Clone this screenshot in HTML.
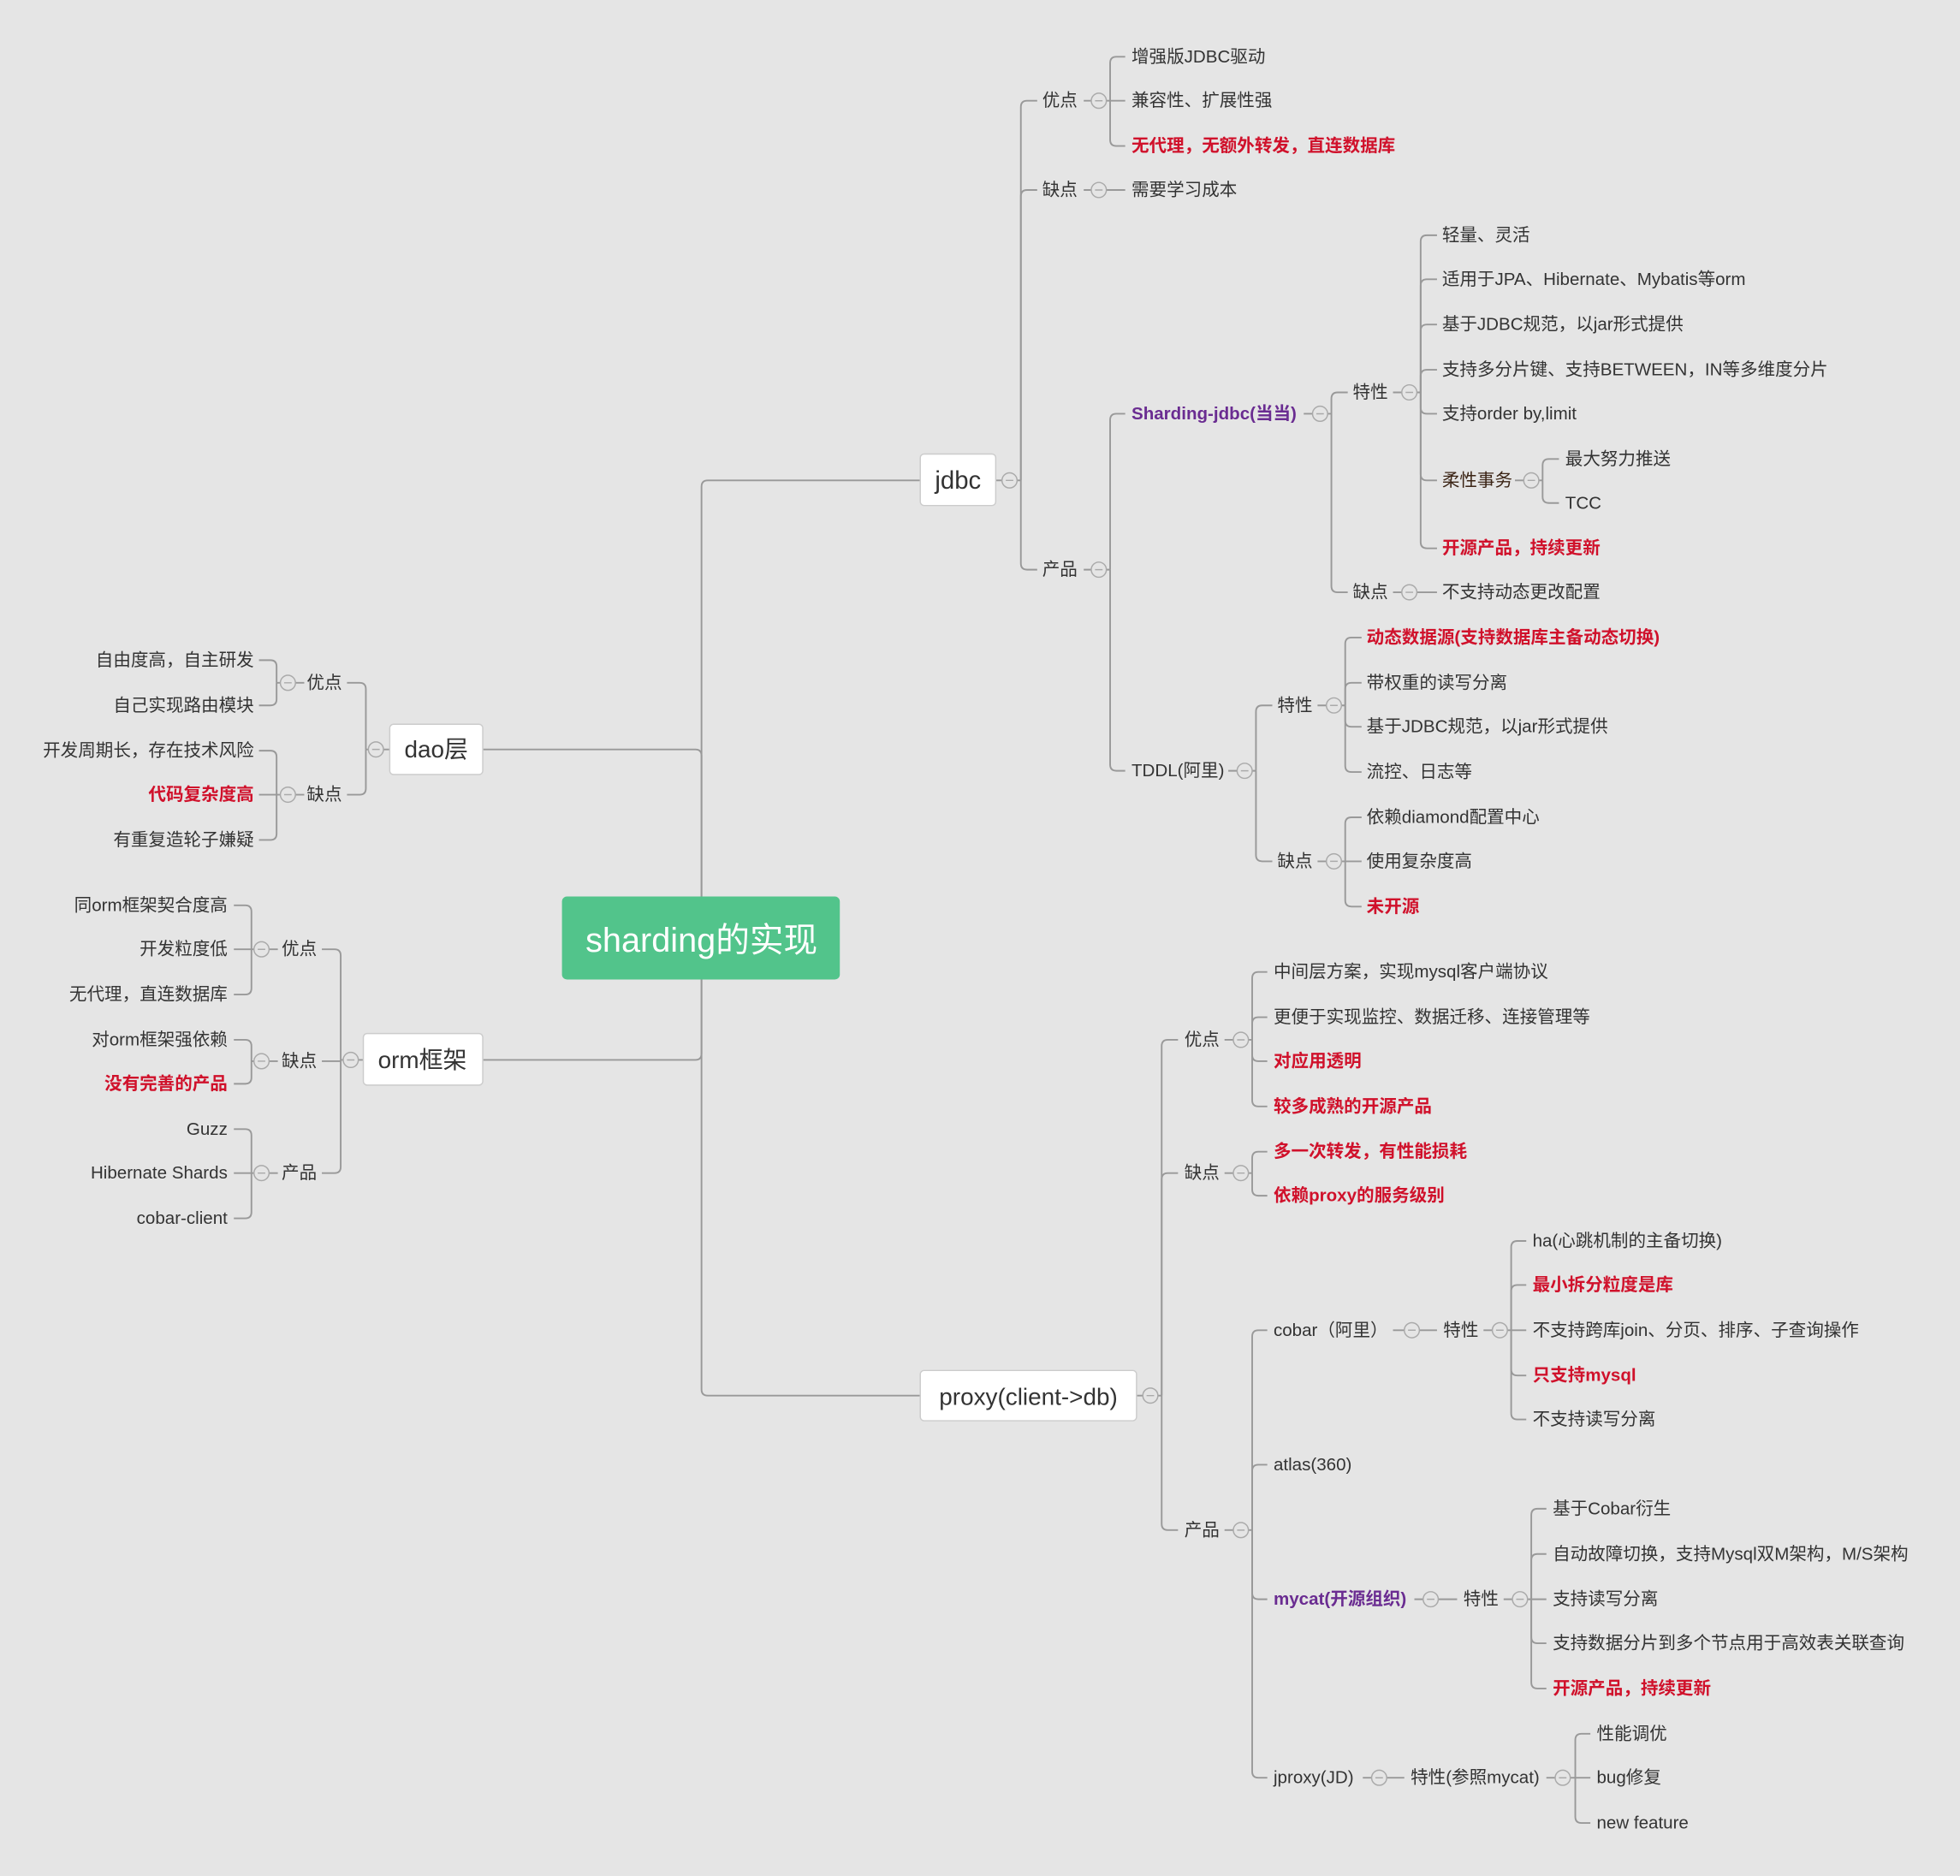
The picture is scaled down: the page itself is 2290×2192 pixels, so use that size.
<!DOCTYPE html>
<html><head><meta charset="utf-8"><style>
html,body{margin:0;padding:0;background:#e5e5e5;}
svg{display:block;}
text{font-family:"Liberation Sans","Noto Sans CJK SC",sans-serif;font-size:14px;fill:#333;dominant-baseline:central;}
.r{fill:#d0112b;font-weight:bold;}
.p{fill:#6a2c91;font-weight:bold;}
.e{text-anchor:end;}
.l{fill:none;stroke:#999;stroke-width:1.3;}
.c{fill:#e5e5e5;stroke:#aaa;stroke-width:1;}
.box{fill:#fff;stroke:#ccc;stroke-width:1;}
</style></head><body>
<svg width="2290" height="2192" viewBox="0 0 1559 1492" xmlns="http://www.w3.org/2000/svg">
<rect width="1559" height="1492" fill="#e5e5e5"/>
<g class="l">
<!-- main -->
<path d="M558 713 V387 Q558 382 563 382 H732"/>
<path d="M558 713 V601 Q558 596 553 596 H384"/>
<path d="M558 779 V838 Q558 843 553 843 H384"/>
<path d="M558 779 V1105 Q558 1110 563 1110 H732"/>
<!-- jdbc -->
<path d="M792 382 H797 M809 382 H812"/>
<path d="M812 382 V85 Q812 80 817 80 H825"/>
<path d="M812 382 V156 Q812 151 817 151 H825"/>
<path d="M812 382 V448 Q812 453 817 453 H825"/>
<path d="M862 80 H868 M880 80 H883"/>
<path d="M883 80 V50 Q883 45 888 45 H895"/>
<path d="M883 80 H895"/>
<path d="M883 80 V111 Q883 116 888 116 H895"/>
<path d="M862 151 H868 M880 151 H895"/>
<path d="M862 453 H868 M880 453 H883"/>
<path d="M883 453 V334 Q883 329 888 329 H895"/>
<path d="M883 453 V608 Q883 613 888 613 H895"/>
<path d="M1037 329 H1044 M1056 329 H1059"/>
<path d="M1059 329 V317 Q1059 312 1064 312 H1072"/>
<path d="M1059 329 V466 Q1059 471 1064 471 H1072"/>
<path d="M1108 312 H1115 M1127 312 H1130"/>
<path d="M1130 312 V192 Q1130 187 1135 187 H1143"/>
<path d="M1130 312 V227 Q1130 222 1135 222 H1143"/>
<path d="M1130 312 V263 Q1130 258 1135 258 H1143"/>
<path d="M1130 312 V299 Q1130 294 1135 294 H1143"/>
<path d="M1130 312 V324 Q1130 329 1135 329 H1143"/>
<path d="M1130 312 V377 Q1130 382 1135 382 H1143"/>
<path d="M1130 312 V431 Q1130 436 1135 436 H1143"/>
<path d="M1205 382 H1212 M1224 382 H1227"/>
<path d="M1227 382 V370 Q1227 365 1232 365 H1240"/>
<path d="M1227 382 V395 Q1227 400 1232 400 H1240"/>
<path d="M1108 471 H1115 M1127 471 H1143"/>
<path d="M977 613 H984 M996 613 H999"/>
<path d="M999 613 V566 Q999 561 1004 561 H1012"/>
<path d="M999 613 V680 Q999 685 1004 685 H1012"/>
<path d="M1048 561 H1055 M1067 561 H1070"/>
<path d="M1070 561 V512 Q1070 507 1075 507 H1083"/>
<path d="M1070 561 V548 Q1070 543 1075 543 H1083"/>
<path d="M1070 561 V573 Q1070 578 1075 578 H1083"/>
<path d="M1070 561 V609 Q1070 614 1075 614 H1083"/>
<path d="M1048 685 H1055 M1067 685 H1070"/>
<path d="M1070 685 V655 Q1070 650 1075 650 H1083"/>
<path d="M1070 685 H1083"/>
<path d="M1070 685 V716 Q1070 721 1075 721 H1083"/>
<!-- proxy -->
<path d="M904 1110 H909 M921 1110 H924"/>
<path d="M924 1110 V832 Q924 827 929 827 H937"/>
<path d="M924 1110 V938 Q924 933 929 933 H937"/>
<path d="M924 1110 V1212 Q924 1217 929 1217 H937"/>
<path d="M974 827 H981 M993 827 H996"/>
<path d="M996 827 V778 Q996 773 1001 773 H1008"/>
<path d="M996 827 V814 Q996 809 1001 809 H1008"/>
<path d="M996 827 V839 Q996 844 1001 844 H1008"/>
<path d="M996 827 V875 Q996 880 1001 880 H1008"/>
<path d="M974 933 H981 M993 933 H996"/>
<path d="M996 933 V921 Q996 916 1001 916 H1008"/>
<path d="M996 933 V946 Q996 951 1001 951 H1008"/>
<path d="M974 1217 H981 M993 1217 H996"/>
<path d="M996 1217 V1063 Q996 1058 1001 1058 H1008"/>
<path d="M996 1217 V1170 Q996 1165 1001 1165 H1008"/>
<path d="M996 1217 V1267 Q996 1272 1001 1272 H1008"/>
<path d="M996 1217 V1409 Q996 1414 1001 1414 H1008"/>
<path d="M1108 1058 H1117 M1129 1058 H1143"/>
<path d="M1180 1058 H1187 M1199 1058 H1202"/>
<path d="M1202 1058 V992 Q1202 987 1207 987 H1214"/>
<path d="M1202 1058 V1027 Q1202 1022 1207 1022 H1214"/>
<path d="M1202 1058 H1214"/>
<path d="M1202 1058 V1089 Q1202 1094 1207 1094 H1214"/>
<path d="M1202 1058 V1124 Q1202 1129 1207 1129 H1214"/>
<path d="M1125 1272 H1132 M1144 1272 H1159"/>
<path d="M1196 1272 H1203 M1215 1272 H1218"/>
<path d="M1218 1272 V1205 Q1218 1200 1223 1200 H1230"/>
<path d="M1218 1272 V1241 Q1218 1236 1223 1236 H1230"/>
<path d="M1218 1272 H1230"/>
<path d="M1218 1272 V1302 Q1218 1307 1223 1307 H1230"/>
<path d="M1218 1272 V1338 Q1218 1343 1223 1343 H1230"/>
<path d="M1084 1414 H1091 M1103 1414 H1117"/>
<path d="M1230 1414 H1237 M1249 1414 H1253"/>
<path d="M1253 1414 V1384 Q1253 1379 1258 1379 H1265"/>
<path d="M1253 1414 H1265"/>
<path d="M1253 1414 V1445 Q1253 1450 1258 1450 H1265"/>
<!-- dao -->
<path d="M310 596 H305 M293 596 H291"/>
<path d="M291 596 V548 Q291 543 286 543 H276"/>
<path d="M291 596 V627 Q291 632 286 632 H276"/>
<path d="M242 543 H235 M223 543 H220"/>
<path d="M220 543 V530 Q220 525 215 525 H206"/>
<path d="M220 543 V556 Q220 561 215 561 H206"/>
<path d="M242 632 H235 M223 632 H220"/>
<path d="M220 632 V602 Q220 597 215 597 H206"/>
<path d="M220 632 H206"/>
<path d="M220 632 V663 Q220 668 215 668 H206"/>
<!-- orm -->
<path d="M289 843 H285 M273 843 H271"/>
<path d="M271 843 V760 Q271 755 266 755 H256"/>
<path d="M271 843 V844 H256"/>
<path d="M271 843 V928 Q271 933 266 933 H256"/>
<path d="M221 755 H214 M202 755 H200"/>
<path d="M200 755 V725 Q200 720 195 720 H186"/>
<path d="M200 755 H186"/>
<path d="M200 755 V786 Q200 791 195 791 H186"/>
<path d="M221 844 H214 M202 844 H200"/>
<path d="M200 844 V832 Q200 827 195 827 H186"/>
<path d="M200 844 V857 Q200 862 195 862 H186"/>
<path d="M221 933 H214 M202 933 H200"/>
<path d="M200 933 V903 Q200 898 195 898 H186"/>
<path d="M200 933 H186"/>
<path d="M200 933 V964 Q200 969 195 969 H186"/>
</g>
<!-- collapse circles -->
<g>
<g class="c">
<circle cx="803" cy="382" r="6"/><circle cx="874" cy="80" r="6"/><circle cx="874" cy="151" r="6"/><circle cx="874" cy="453" r="6"/>
<circle cx="1050" cy="329" r="6"/><circle cx="1121" cy="312" r="6"/><circle cx="1218" cy="382" r="6"/><circle cx="1121" cy="471" r="6"/>
<circle cx="990" cy="613" r="6"/><circle cx="1061" cy="561" r="6"/><circle cx="1061" cy="685" r="6"/>
<circle cx="915" cy="1110" r="6"/><circle cx="987" cy="827" r="6"/><circle cx="987" cy="933" r="6"/><circle cx="987" cy="1217" r="6"/>
<circle cx="1123" cy="1058" r="6"/><circle cx="1193" cy="1058" r="6"/><circle cx="1138" cy="1272" r="6"/><circle cx="1209" cy="1272" r="6"/>
<circle cx="1097" cy="1414" r="6"/><circle cx="1243" cy="1414" r="6"/>
<circle cx="299" cy="596" r="6"/><circle cx="229" cy="543" r="6"/><circle cx="229" cy="632" r="6"/>
<circle cx="279" cy="843" r="6"/><circle cx="208" cy="755" r="6"/><circle cx="208" cy="844" r="6"/><circle cx="208" cy="933" r="6"/>
</g>
<g stroke="#aaa" stroke-width="1">
<path d="M800 382h6M871 80h6M871 151h6M871 453h6M1047 329h6M1118 312h6M1215 382h6M1118 471h6M987 613h6M1058 561h6M1058 685h6M912 1110h6M984 827h6M984 933h6M984 1217h6M1120 1058h6M1190 1058h6M1135 1272h6M1206 1272h6M1094 1414h6M1240 1414h6M296 596h6M226 543h6M226 632h6M276 843h6M205 755h6M205 844h6M205 933h6"/>
</g>
</g>
<!-- boxes -->
<rect x="447" y="713" width="221" height="66" rx="4" fill="#52c48b"/>
<text x="558" y="748" text-anchor="middle" style="font-size:27px;fill:#fff">sharding的实现</text>
<rect class="box" x="732" y="361" width="60" height="41" rx="3"/>
<text x="762" y="382" text-anchor="middle" style="font-size:20px">jdbc</text>
<rect class="box" x="310" y="576" width="74" height="40" rx="3"/>
<text x="347" y="596" text-anchor="middle" style="font-size:19px">dao层</text>
<rect class="box" x="289" y="822" width="95" height="41" rx="3"/>
<text x="336" y="843" text-anchor="middle" style="font-size:19px">orm框架</text>
<rect class="box" x="732" y="1090" width="172" height="40" rx="3"/>
<text x="818" y="1111" text-anchor="middle" style="font-size:19px">proxy(client-&gt;db)</text>
<!-- jdbc texts -->
<text x="829" y="80">优点</text>
<text x="829" y="151">缺点</text>
<text x="829" y="453">产品</text>
<text x="900" y="45">增强版JDBC驱动</text>
<text x="900" y="80">兼容性、扩展性强</text>
<text x="900" y="116" class="r">无代理，无额外转发，直连数据库</text>
<text x="900" y="151">需要学习成本</text>
<text x="900" y="329" class="p">Sharding-jdbc(当当)</text>
<text x="900" y="613">TDDL(阿里)</text>
<text x="1076" y="312">特性</text>
<text x="1076" y="471">缺点</text>
<text x="1147" y="187">轻量、灵活</text>
<text x="1147" y="222">适用于JPA、Hibernate、Mybatis等orm</text>
<text x="1147" y="258">基于JDBC规范，以jar形式提供</text>
<text x="1147" y="294">支持多分片键、支持BETWEEN，IN等多维度分片</text>
<text x="1147" y="329">支持order by,limit</text>
<text x="1147" y="382" style="fill:#3b2415">柔性事务</text>
<text x="1147" y="436" class="r">开源产品，持续更新</text>
<text x="1245" y="365">最大努力推送</text>
<text x="1245" y="400">TCC</text>
<text x="1147" y="471">不支持动态更改配置</text>
<text x="1016" y="561">特性</text>
<text x="1016" y="685">缺点</text>
<text x="1087" y="507" class="r">动态数据源(支持数据库主备动态切换)</text>
<text x="1087" y="543">带权重的读写分离</text>
<text x="1087" y="578">基于JDBC规范，以jar形式提供</text>
<text x="1087" y="614">流控、日志等</text>
<text x="1087" y="650">依赖diamond配置中心</text>
<text x="1087" y="685">使用复杂度高</text>
<text x="1087" y="721" class="r">未开源</text>
<!-- proxy texts -->
<text x="942" y="827">优点</text>
<text x="942" y="933">缺点</text>
<text x="942" y="1217">产品</text>
<text x="1013" y="773">中间层方案，实现mysql客户端协议</text>
<text x="1013" y="809">更便于实现监控、数据迁移、连接管理等</text>
<text x="1013" y="844" class="r">对应用透明</text>
<text x="1013" y="880" class="r">较多成熟的开源产品</text>
<text x="1013" y="916" class="r">多一次转发，有性能损耗</text>
<text x="1013" y="951" class="r">依赖proxy的服务级别</text>
<text x="1013" y="1058">cobar（阿里）</text>
<text x="1013" y="1165">atlas(360)</text>
<text x="1013" y="1272" class="p">mycat(开源组织)</text>
<text x="1013" y="1414">jproxy(JD)</text>
<text x="1148" y="1058">特性</text>
<text x="1219" y="987">ha(心跳机制的主备切换)</text>
<text x="1219" y="1022" class="r">最小拆分粒度是库</text>
<text x="1219" y="1058">不支持跨库join、分页、排序、子查询操作</text>
<text x="1219" y="1094" class="r">只支持mysql</text>
<text x="1219" y="1129">不支持读写分离</text>
<text x="1164" y="1272">特性</text>
<text x="1235" y="1200">基于Cobar衍生</text>
<text x="1235" y="1236">自动故障切换，支持Mysql双M架构，M/S架构</text>
<text x="1235" y="1272">支持读写分离</text>
<text x="1235" y="1307">支持数据分片到多个节点用于高效表关联查询</text>
<text x="1235" y="1343" class="r">开源产品，持续更新</text>
<text x="1122" y="1414">特性(参照mycat)</text>
<text x="1270" y="1379">性能调优</text>
<text x="1270" y="1414">bug修复</text>
<text x="1270" y="1450">new feature</text>
<!-- left texts -->
<text x="272" y="543" class="e">优点</text>
<text x="272" y="632" class="e">缺点</text>
<text x="202" y="525" class="e">自由度高，自主研发</text>
<text x="202" y="561" class="e">自己实现路由模块</text>
<text x="202" y="597" class="e">开发周期长，存在技术风险</text>
<text x="202" y="632" class="e r">代码复杂度高</text>
<text x="202" y="668" class="e">有重复造轮子嫌疑</text>
<text x="252" y="755" class="e">优点</text>
<text x="252" y="844" class="e">缺点</text>
<text x="252" y="933" class="e">产品</text>
<text x="181" y="720" class="e">同orm框架契合度高</text>
<text x="181" y="755" class="e">开发粒度低</text>
<text x="181" y="791" class="e">无代理，直连数据库</text>
<text x="181" y="827" class="e">对orm框架强依赖</text>
<text x="181" y="862" class="e r">没有完善的产品</text>
<text x="181" y="898" class="e">Guzz</text>
<text x="181" y="933" class="e">Hibernate Shards</text>
<text x="181" y="969" class="e">cobar-client</text>
</svg>
</body></html>
